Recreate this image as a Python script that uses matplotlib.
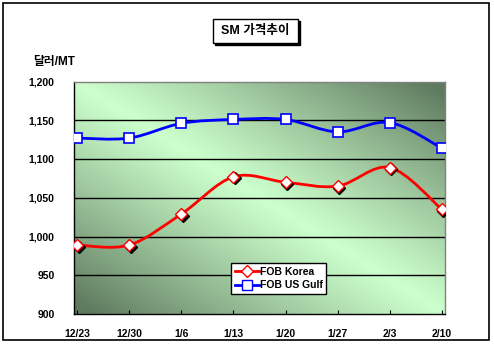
import numpy as np
import matplotlib
matplotlib.use("Agg")
import matplotlib.pyplot as plt
from matplotlib.path import Path
from matplotlib.patches import PathPatch, Rectangle
from matplotlib.lines import Line2D
import matplotlib.transforms as mtransforms

plt.rcParams['font.family'] = ['Liberation Sans', 'Noto Sans CJK KR', 'DejaVu Sans']

dates = ['12/23', '12/30', '1/6', '1/13', '1/20', '1/27', '2/3', '2/10']
fob_korea = [989, 989, 1029, 1077, 1070, 1065, 1089, 1035]
fob_gulf = [1127, 1127, 1146, 1151, 1151, 1135, 1147, 1114]

W, H = 494, 348
fig = plt.figure(figsize=(W / 100, H / 100), dpi=100)

def fx(px):
    return px / W

def fy(py):
    return 1 - py / H

# outer frame
fig.patches.append(Rectangle((fx(3), fy(340)), fx(486), 337 / H, transform=fig.transFigure,
                             fill=False, edgecolor='black', linewidth=1.2))

ax = fig.add_axes([fx(74), fy(314), fx(445) - fx(74), (314 - 81.5) / H])

# plot-area gradient: light along the main diagonal, darker at the other corners
gx, gy = np.meshgrid(np.linspace(0, 1, 300), np.linspace(0, 1, 300))
t = np.clip(np.abs(gx - gy) * 1.05, 0, 1) ** 1.1
light = np.array([0xcc, 0xff, 0xcc]) / 255
dark = np.array([0x5f, 0x7a, 0x5f]) / 255
img = light[None, None, :] * (1 - t[..., None]) + dark[None, None, :] * t[..., None]
ax.imshow(img, extent=[0, 1, 0, 1], transform=ax.transAxes, aspect='auto', zorder=0)


def smooth_path(xs, ys):
    # Excel-style smoothed line: cubic Bezier segments (Catmull-Rom)
    p = np.column_stack([xs, ys]).astype(float)
    pts = np.vstack([p[0], p, p[-1]])
    verts = [p[0]]
    codes = [Path.MOVETO]
    for i in range(1, len(pts) - 2):
        c1 = pts[i] + (pts[i + 1] - pts[i - 1]) / 6
        c2 = pts[i + 1] - (pts[i + 2] - pts[i]) / 6
        verts += [c1, c2, pts[i + 1]]
        codes += [Path.CURVE4] * 3
    return Path(verts, codes)


x = np.arange(len(dates))

for val in [950, 1000, 1050, 1100, 1150]:
    ax.axhline(val, color='black', linewidth=1.0, zorder=1)

ax.add_patch(PathPatch(smooth_path(x, fob_korea), fill=False, edgecolor='#ff0000',
                       linewidth=2.0, zorder=3, capstyle='round'))
ax.add_patch(PathPatch(smooth_path(x, fob_gulf), fill=False, edgecolor='#0000ff',
                       linewidth=2.0, zorder=3, capstyle='round'))

shadow = ax.transData + mtransforms.ScaledTranslation(1.5 / 100, -1.5 / 100, fig.dpi_scale_trans)
ax.plot(x, fob_korea, linestyle='none', marker='D', markersize=6.5, color='black',
        transform=shadow, zorder=4)
ax.plot(x, fob_korea, linestyle='none', marker='D', markersize=6.5, markerfacecolor='white',
        markeredgecolor='#ff0000', markeredgewidth=1.0, zorder=5)
ax.plot(x, fob_gulf, linestyle='none', marker='s', markersize=7.5, markerfacecolor='white',
        markeredgecolor='#0000ff', markeredgewidth=1.2, zorder=5)

ax.set_xlim(-0.06, 7.06)
ax.set_ylim(900, 1200)
ax.set_yticks([900, 950, 1000, 1050, 1100, 1150, 1200])
ax.set_yticklabels(['900', '950', '1,000', '1,050', '1,100', '1,150', '1,200'])
ax.set_xticks(x)
ax.set_xticklabels(dates)
ax.tick_params(axis='y', length=0, pad=14, labelsize=7.5)
ax.tick_params(axis='x', length=3, direction='in', pad=11, labelsize=7.5, width=0.8)
for lbl in ax.get_xticklabels() + ax.get_yticklabels():
    lbl.set_fontweight('bold')

ax.spines['left'].set_color('black')
ax.spines['bottom'].set_color('black')
ax.spines['top'].set_color('#808080')
ax.spines['right'].set_color('#808080')
for s in ax.spines.values():
    s.set_linewidth(1.0)

handles = [
    Line2D([], [], color='#ff0000', linewidth=2.0, marker='D', markersize=6,
           markerfacecolor='white', markeredgecolor='#ff0000'),
    Line2D([], [], color='#0000ff', linewidth=2.0, marker='s', markersize=7,
           markerfacecolor='white', markeredgecolor='#0000ff'),
]
leg = fig.legend(handles, ['FOB Korea', 'FOB US Gulf'], loc='upper left',
                 bbox_to_anchor=(fx(226), fy(258)), frameon=True, fancybox=False,
                 handlelength=2.3, handletextpad=0.1, borderpad=0.35, labelspacing=0.35,
                 prop={'weight': 'bold', 'size': 7.5})
leg.get_frame().set_edgecolor('black')
leg.get_frame().set_linewidth(1.0)
leg.get_frame().set_facecolor('white')
leg.get_frame().set_alpha(1)

# title box with shadow
fig.patches.append(Rectangle((fx(215), fy(45)), fx(85), 24 / H, transform=fig.transFigure,
                             facecolor='black', edgecolor='black', zorder=5))
fig.patches.append(Rectangle((fx(213), fy(43)), fx(85), 24 / H, transform=fig.transFigure,
                             facecolor='white', edgecolor='black', linewidth=1.0, zorder=6))
fig.text(fx(255.5), fy(31), 'SM 가격추이', ha='center', va='center', fontsize=9,
         fontweight='bold', zorder=7)

fig.text(fx(33), fy(62), '달러/MT', ha='left', va='center', fontsize=8.5, fontweight='bold')

fig.savefig('out.png', dpi=100)
